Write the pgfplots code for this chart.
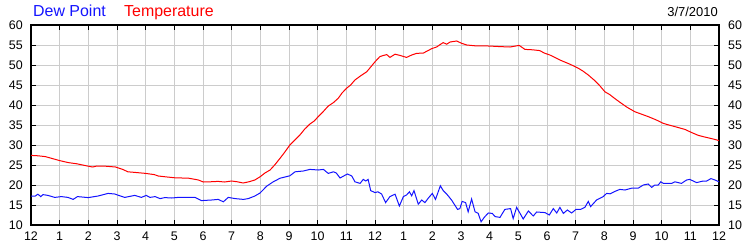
\documentclass[border=0pt]{standalone}
\usepackage{pgfplots}
\pgfplotsset{compat=1.18}
\usepackage{fontspec}
\setmainfont{Liberation Sans}
\definecolor{tred}{RGB}{255,0,0}
\definecolor{dblue}{RGB}{20,20,255}
\definecolor{gridc}{RGB}{204,204,204}
\begin{document}
\begin{tikzpicture}
\begin{axis}[
  at={(0,0)}, anchor=south west, scale only axis,
  width=688bp, height=200bp,
  xmin=0, xmax=24, ymin=10, ymax=60,
  xtick={0,1,2,3,4,5,6,7,8,9,10,11,12,13,14,15,16,17,18,19,20,21,22,23,24},
  xticklabels={12,1,2,3,4,5,6,7,8,9,10,11,12,1,2,3,4,5,6,7,8,9,10,11,12},
  ytick={10,15,20,25,30,35,40,45,50,55,60},
  grid=major, grid style={gridc, line width=1bp},
  tick align=inside, major tick length=5bp,
  tick style={black, line width=1bp},
  axis line style={black, line width=1.5bp},
  /pgf/number format/assume math mode=true,
  tick label style={font=\fontsize{12.5}{14}\selectfont, inner sep=0pt, text=black},
  yticklabel style={xshift=-8bp},
  xticklabel style={yshift=-7bp},
  clip=true,
]
\addplot[tred, line width=1bp, no markers] coordinates {
(0,27.4)(0.25,27.3)(0.5,27.1)(0.75,26.6)(1.0,26.1)(1.3,25.6)(1.6,25.3)(2.0,24.7)(2.15,24.5)(2.3,24.75)(2.6,24.7)(2.95,24.5)(3.2,23.9)(3.38,23.3)(3.7,23.1)(4.0,22.9)(4.3,22.6)(4.44,22.25)(4.75,22.0)(5.02,21.8)(5.5,21.7)(5.84,21.25)(6.01,20.75)(6.25,20.8)(6.53,20.9)(6.75,20.75)(7.0,21.0)(7.2,20.8)(7.4,20.5)(7.6,20.8)(7.81,21.25)(8.0,22.1)(8.16,23.0)(8.34,23.75)(8.5,25.0)(8.69,26.7)(8.85,28.2)(9.03,30.0)(9.2,31.2)(9.38,32.5)(9.55,34.0)(9.73,35.25)(9.88,36.0)(10.02,37.1)(10.2,38.4)(10.37,39.75)(10.55,40.6)(10.72,41.7)(10.85,43.0)(11.01,44.2)(11.15,45.0)(11.3,46.25)(11.5,47.3)(11.71,48.3)(11.85,49.5)(12.0,50.8)(12.17,52.1)(12.3,52.4)(12.41,52.6)(12.52,51.9)(12.7,52.7)(12.87,52.4)(13.1,51.9)(13.28,52.5)(13.45,52.9)(13.69,53.0)(13.85,53.6)(13.98,54.1)(14.15,54.5)(14.27,55.1)(14.38,55.6)(14.5,55.2)(14.62,55.75)(14.85,56.0)(15.03,55.4)(15.2,55.0)(15.49,54.8)(15.8,54.8)(16.1,54.7)(16.36,54.6)(16.71,54.5)(17.03,54.9)(17.23,53.9)(17.5,53.8)(17.75,53.6)(17.9,53.0)(18.1,52.5)(18.3,51.8)(18.45,51.25)(18.6,50.8)(18.8,50.2)(19.09,49.2)(19.25,48.5)(19.44,47.5)(19.65,46.2)(19.85,44.75)(20.02,43.3)(20.19,42.6)(20.35,41.7)(20.54,40.7)(20.8,39.4)(21.07,38.3)(21.3,37.7)(21.53,37.1)(21.8,36.3)(22.06,35.4)(22.25,35.0)(22.46,34.6)(22.81,33.9)(23.05,33.1)(23.28,32.4)(23.5,32.0)(23.68,31.7)(23.85,31.4)(24.0,31.1)
};
\addplot[dblue, line width=1bp, no markers] coordinates {
(0,17.25)(0.15,17.25)(0.24,17.7)(0.34,17.1)(0.42,17.6)(0.59,17.4)(0.83,16.9)(1.06,17.1)(1.29,16.9)(1.47,16.4)(1.62,17.1)(2.0,16.85)(2.34,17.25)(2.69,17.9)(2.92,17.75)(3.1,17.3)(3.27,16.9)(3.62,17.4)(3.85,16.9)(4.02,17.4)(4.15,16.9)(4.33,17.1)(4.5,16.6)(4.67,16.85)(4.91,16.75)(5.14,16.9)(5.72,16.9)(5.95,16.1)(6.3,16.25)(6.53,16.4)(6.71,15.8)(6.88,16.9)(7.12,16.6)(7.41,16.4)(7.58,16.6)(7.81,17.25)(7.99,18.0)(8.1,18.8)(8.22,19.7)(8.45,20.8)(8.69,21.7)(9.03,22.3)(9.21,23.3)(9.5,23.5)(9.73,23.9)(10.02,23.75)(10.2,23.9)(10.37,22.9)(10.55,23.3)(10.65,23.0)(10.78,21.75)(10.92,22.3)(11.04,22.75)(11.19,22.25)(11.3,20.8)(11.48,20.4)(11.59,21.4)(11.68,21.0)(11.76,21.4)(11.85,18.6)(12.0,18.1)(12.1,18.3)(12.23,17.75)(12.37,15.6)(12.52,17.1)(12.7,17.7)(12.85,14.75)(12.99,17.1)(13.1,17.5)(13.2,18.3)(13.28,17.3)(13.36,18.6)(13.51,15.2)(13.63,16.25)(13.74,15.6)(13.88,16.9)(14.0,17.9)(14.11,16.4)(14.28,19.8)(14.38,18.6)(14.5,17.75)(14.67,16.25)(14.88,13.9)(14.96,14.1)(15.04,15.9)(15.16,15.6)(15.25,13.3)(15.37,16.5)(15.49,13.3)(15.6,12.9)(15.7,10.8)(15.81,11.9)(15.95,13.0)(16.09,12.9)(16.19,12.1)(16.36,11.9)(16.53,13.9)(16.73,14.1)(16.82,11.6)(16.94,14.4)(17.06,12.9)(17.17,11.5)(17.35,13.5)(17.52,12.25)(17.64,13.25)(17.93,13.1)(18.08,12.5)(18.22,14.1)(18.34,13.0)(18.45,14.4)(18.57,12.9)(18.71,13.75)(18.86,13.0)(19.01,13.9)(19.17,13.9)(19.32,14.4)(19.44,15.9)(19.52,14.6)(19.73,16.25)(19.96,17.1)(20.08,17.9)(20.2,17.8)(20.37,18.4)(20.54,18.9)(20.72,18.75)(20.95,19.2)(21.18,19.2)(21.36,20.0)(21.53,20.25)(21.65,19.4)(21.76,20.0)(21.88,20.0)(21.97,20.8)(22.06,20.4)(22.35,20.4)(22.46,20.8)(22.69,20.4)(22.87,21.25)(22.98,21.4)(23.22,20.6)(23.45,21.0)(23.57,21.0)(23.72,21.6)(23.86,21.25)(24.0,20.8)
};
\end{axis}
\begin{axis}[
  at={(0,0)}, anchor=south west, scale only axis,
  width=688bp, height=200bp,
  xmin=0, xmax=24, ymin=10, ymax=60,
  hide x axis, axis y line*=right,
  y axis line style={draw=none},
  ytick={10,15,20,25,30,35,40,45,50,55,60},
  major tick length=0pt, tick style={draw=none},
  /pgf/number format/assume math mode=true,
  tick label style={font=\fontsize{12.5}{14}\selectfont, inner sep=0pt, text=black},
  yticklabel style={xshift=9bp},
]
\end{axis}
\node[anchor=base west, inner sep=0pt, text=dblue, font=\fontsize{16}{19}\selectfont] at (2bp,208bp) {Dew Point};
\node[anchor=base west, inner sep=0pt, text=tred, font=\fontsize{16}{19}\selectfont] at (93bp,208bp) {Temperature};
\node[anchor=base east, inner sep=0pt, text=black, font=\fontsize{13}{15}\selectfont] at (687bp,208bp) {3/7/2010};
\pgfresetboundingbox
\path[use as bounding box] (-31bp,-25bp) rectangle (719bp,225bp);
\end{tikzpicture}
\end{document}
